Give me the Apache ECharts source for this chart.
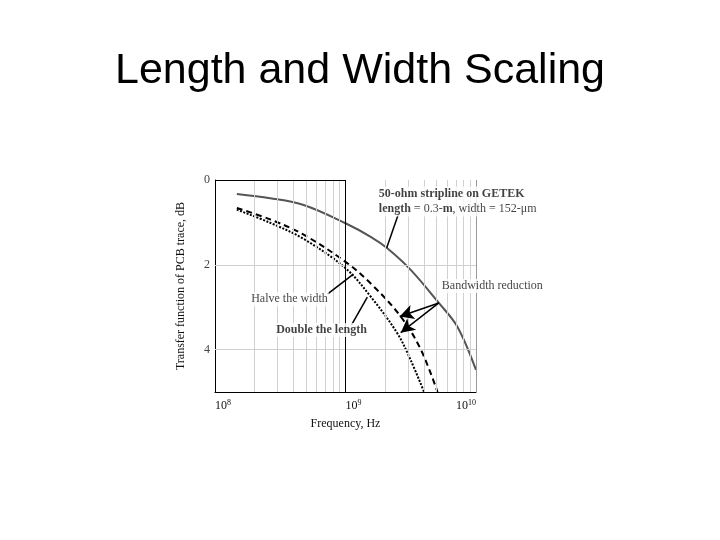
<!DOCTYPE html>
<html>
<head>
<meta charset="utf-8">
<script src="https://cdn.jsdelivr.net/npm/echarts@6/dist/echarts.min.js"></script>
<style>html,body{margin:0;padding:0;background:#fff}#c{width:720px;height:540px}</style>
</head>
<body>
<div id="c"></div>
<script>
// ---- data (frequency in Hz, loss in dB) ----
const solidFreq = [1.47e8, 2.65e8, 4.78e8, 1.0e9, 1.56e9, 2.09e9, 3.16e9, 5.19e9, 7.2e9, 1.0e10];
const solidDb   = [0.33, 0.43, 0.59, 1.02, 1.34, 1.61, 2.12, 2.90, 3.46, 4.48];
const dashedFreq = [1.47e8, 2.65e8, 4.78e8, 1.0e9, 1.56e9, 2.65e9, 3.78e9, 5.07e9];
const dashedDb   = [0.66, 0.93, 1.29, 1.93, 2.44, 3.22, 4.0, 5.0];
const dottedFreq = [1.47e8, 2.65e8, 4.78e8, 1.0e9, 1.56e9, 2.5e9, 3.16e9, 4.0e9];
const dottedDb   = [0.70, 1.01, 1.39, 2.08, 2.75, 3.62, 4.25, 5.0];
const minorGridFreqs = [2e8,3e8,4e8,5e8,6e8,7e8,8e8,9e8,2e9,3e9,4e9,5e9,6e9,7e9,8e9,9e9];
const gridDb = [2, 4];
const yTicks = [0, 2, 4];
// annotation anchors [freq, dB]
const noteStripline = [1.77e9, 0.51];
const noteBandwidth = [5.38e9, 2.50];
const noteHalve = [1.86e8, 2.81];
const noteDouble = [2.89e8, 3.54];
const pointerStripline = [[2.56e9, 0.78], [2.07e9, 1.60]];
const pointerHalve = [[7.27e8, 2.69], [1.15e9, 2.22]];
const pointerDouble = [[1.11e9, 3.42], [1.47e9, 2.76]];
const arrowUpper = [[5.19e9, 2.90], [2.60e9, 3.22]];
const arrowLower = [[5.19e9, 2.90], [2.65e9, 3.60]];
const topBorder = [[1e8, 0], [1e9, 0]];

const zip = (a, b) => a.map((v, i) => [v, b[i]]);
const serif = 'Liberation Serif';
const txt = '#111';

function note(pt, text, bold) {
  return {
    value: pt,
    label: {
      show: true, position: 'right', distance: 0, formatter: text,
      fontFamily: serif, fontSize: 12, color: txt, fontWeight: bold ? 'bold' : 'normal',
      backgroundColor: '#fff', padding: [1, 1]
    }
  };
}
function seg(p) { return [{ coord: p[0] }, { coord: p[1] }]; }

const chart = echarts.init(document.getElementById('c'));
chart.setOption({
  animation: false,
  backgroundColor: '#fff',
  title: {
    text: 'Length and Width Scaling', left: 'center', top: 45,
    textStyle: { fontFamily: 'Liberation Sans', fontSize: 43, fontWeight: 'normal', color: '#000' }
  },
  grid: { left: 215, right: 244, top: 180, bottom: 148 },
  xAxis: {
    type: 'log', logBase: 10, min: 1e8, max: 1e10,
    name: 'Frequency, Hz', nameLocation: 'middle', nameGap: 26,
    nameTextStyle: { fontFamily: serif, fontSize: 12, color: txt },
    axisLine: { show: true, onZero: false, lineStyle: { color: '#000', width: 1 } },
    axisTick: { show: false },
    splitLine: { show: false },
    axisLabel: {
      align: 'left', alignMaxLabel: 'right', margin: 7,
      fontFamily: serif, fontSize: 12, color: txt,
      formatter: v => '10{sup|' + Math.round(Math.log10(v)) + '}',
      rich: { sup: { fontFamily: serif, fontSize: 8, color: txt, verticalAlign: 'top', padding: [0, 0, 6, 0] } }
    }
  },
  yAxis: {
    type: 'value', inverse: true, min: 0, max: 5, interval: 2,
    name: 'Transfer function of PCB trace, dB', nameLocation: 'middle', nameGap: 28,
    nameTextStyle: { fontFamily: serif, fontSize: 12, color: txt },
    axisLine: { show: true, onZero: false, lineStyle: { color: '#000', width: 1 } },
    axisTick: { show: false },
    splitLine: { show: false },
    axisLabel: {
      showMaxLabel: false, margin: 5, fontFamily: serif, fontSize: 12, color: '#444',
      formatter: v => (yTicks.indexOf(v) >= 0 ? String(v) : '')
    }
  },
  series: [
    {
      type: 'line', data: [[1e9, 0]], showSymbol: false, lineStyle: { width: 0 }, silent: true, z: 1,
      markLine: {
        silent: true, symbol: ['none', 'none'], label: { show: false },
        data: minorGridFreqs.map(f => ({ xAxis: f, lineStyle: { color: '#d0d0d0', width: 1, type: 'solid' } }))
          .concat(gridDb.map(d => ({ yAxis: d, lineStyle: { color: '#d0d0d0', width: 1, type: 'solid' } })))
          .concat([{ xAxis: 1e9, lineStyle: { color: '#000', width: 1, type: 'solid' } },
                   { xAxis: 1e10, lineStyle: { color: '#999', width: 1, type: 'solid' } },
                   [{ coord: topBorder[0], lineStyle: { color: '#000', width: 1, type: 'solid' } }, { coord: topBorder[1] }]])
      }
    },
    {
      name: 'original', type: 'line', smooth: 0.35, showSymbol: false, z: 3,
      data: zip(solidFreq, solidDb), lineStyle: { color: '#555', width: 2 }
    },
    {
      name: 'halve width', type: 'line', smooth: 0.35, showSymbol: false, z: 3,
      data: zip(dashedFreq, dashedDb), lineStyle: { color: '#000', width: 2, type: [6, 4] }
    },
    {
      name: 'double length', type: 'line', smooth: 0.35, showSymbol: false, z: 3,
      data: zip(dottedFreq, dottedDb), lineStyle: { color: '#000', width: 2, type: [2, 1.5] }
    },
    {
      type: 'line', data: [[1e9, 0]], showSymbol: false, lineStyle: { width: 0 }, silent: true, z: 4,
      markLine: {
        silent: true, symbol: ['none', 'none'], label: { show: false },
        lineStyle: { color: '#000', width: 1.5, type: 'solid' },
        data: [seg(pointerStripline), seg(pointerHalve), seg(pointerDouble)]
      }
    },
    {
      type: 'line', data: [[1e9, 0]], showSymbol: false, lineStyle: { width: 0 }, silent: true, z: 4,
      markLine: {
        silent: true, symbol: ['none', 'arrow'], symbolSize: [11, 14], label: { show: false },
        lineStyle: { color: '#000', width: 1.5, type: 'solid' },
        data: [seg(arrowUpper), seg(arrowLower)]
      }
    },
    {
      type: 'scatter', symbolSize: 0, silent: true, clip: false, z: 5,
      data: [
        {
          value: noteStripline,
          label: {
            show: true, position: 'right', distance: 0,
            formatter: '{b|50-ohm stripline on GETEK}\n{b|length} = 0.3-{b|m}, width = 152-μm',
            fontFamily: serif, fontSize: 12, color: txt, lineHeight: 15,
            backgroundColor: '#fff', padding: [0, 1],
            rich: { b: { fontFamily: serif, fontSize: 12, fontWeight: 'bold', color: txt, lineHeight: 15 } }
          }
        },
        note(noteBandwidth, 'Bandwidth reduction', false),
        note(noteHalve, 'Halve the width', false),
        note(noteDouble, 'Double the length', true)
      ]
    }
  ]
});
</script>
</body>
</html>
